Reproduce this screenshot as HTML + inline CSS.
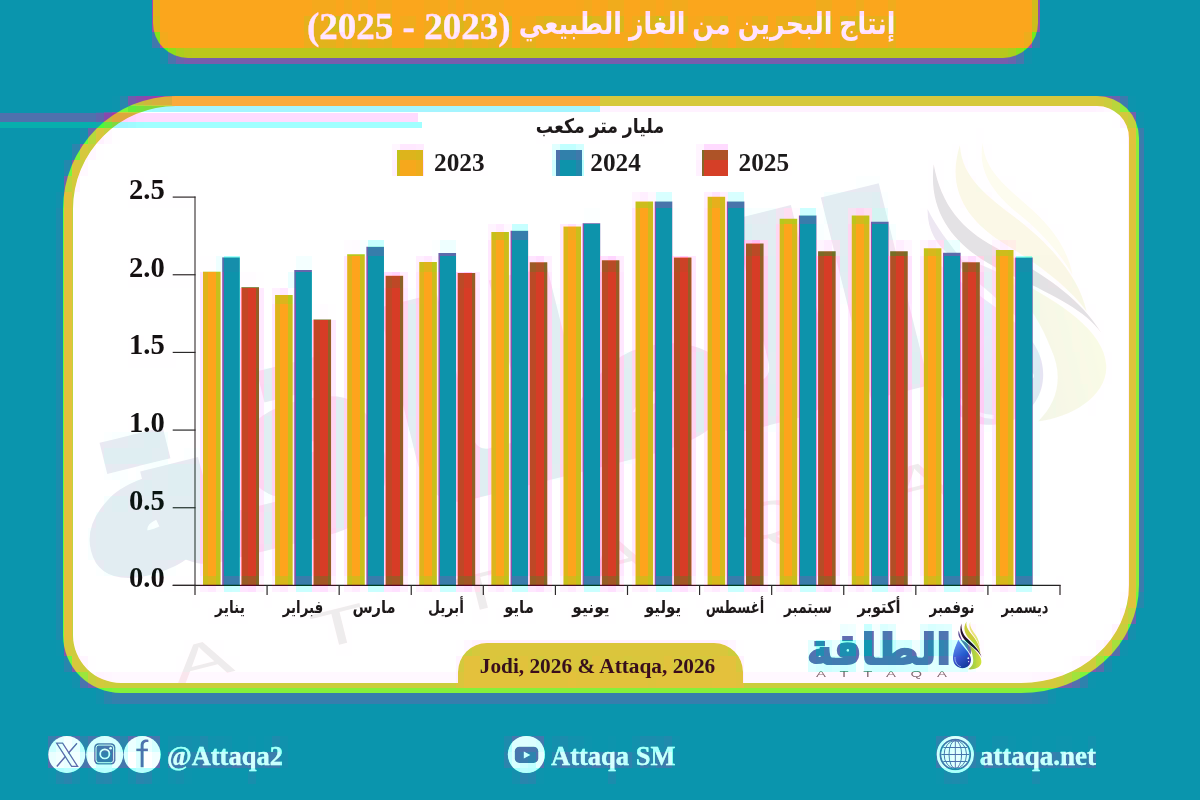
<!DOCTYPE html>
<html lang="ar">
<head>
<meta charset="utf-8">
<title>إنتاج البحرين من الغاز الطبيعي</title>
<style>
html,body{margin:0;padding:0}
body{width:1200px;height:800px;overflow:hidden;position:relative;background:#0a95ad;font-family:"Liberation Serif","DejaVu Sans",serif;}
#banner{position:absolute;left:153px;top:-40px;width:884.5px;height:98px;background:#fba61c;border-radius:0 0 35px 35px;}
#tar{position:absolute;right:305px;top:2px;height:44px;line-height:44px;direction:rtl;color:#fff;font-weight:bold;font-size:30px;font-family:"Liberation Sans","DejaVu Sans",sans-serif;white-space:nowrap;transform-origin:right center;transform:scaleX(0.842);}
#tnum{position:absolute;left:307px;top:5.4px;-webkit-text-stroke:0.3px #fff;height:44px;line-height:44px;direction:rtl;color:#fff;font-weight:bold;font-size:37px;font-family:"Liberation Serif",serif;white-space:nowrap;}
#panel{position:absolute;left:62.5px;top:95.5px;width:1056px;height:577px;border:10px solid #e1c23c;border-radius:113px 42px 118px 58px / 113px 42px 108px 58px;background:#fff;}
#wmclip{position:absolute;left:72.5px;top:105.5px;width:1056px;height:577px;border-radius:103px 32px 108px 48px / 103px 32px 98px 48px;overflow:hidden;}
#wm{position:absolute;left:-72.5px;top:-105.5px;width:1200px;height:800px;transform-origin:0 0;transform:translate(590px,400px) rotate(-14deg) scale(6.1) translate(-895px,-650px);opacity:0.15;}
#wmd{position:absolute;left:-72.5px;top:-105.5px;width:1200px;height:800px;transform-origin:0 0;transform:translate(585px,415px) rotate(-14deg) scale(6.0) translate(-895px,-650px);opacity:0.12;}
#wm .wlogo{position:absolute;left:807px;top:621px;width:146px;height:50px;direction:rtl;text-align:center;font:bold 39px/50px "Liberation Sans","DejaVu Sans",sans-serif;color:#2a90a8;white-space:nowrap;-webkit-text-stroke:2px #2a90a8;transform:scale(1.11,1.08);}
#wm .wsub{position:absolute;left:818px;top:671px;font:normal 8.5px/10px "Liberation Sans",sans-serif;color:#8a8288;letter-spacing:8.4px;white-space:nowrap;transform-origin:left center;transform:scaleX(1.75);}
.bp{position:absolute;mix-blend-mode:screen;pointer-events:none}
.bd{position:absolute;mix-blend-mode:difference;pointer-events:none}
.bm{position:absolute;mix-blend-mode:multiply;pointer-events:none}
#pill{position:absolute;left:457.5px;top:642.5px;width:285px;height:46px;background:#e1c23c;border-radius:29px 29px 0 0;}
#src{position:absolute;left:455px;top:642.5px;width:285px;height:46px;line-height:46px;text-align:center;font-weight:bold;font-size:21.3px;color:#1c1c1c;font-family:"Liberation Serif",serif;white-space:nowrap;}
svg{position:absolute;left:0;top:0}
#stage{position:absolute;left:0;top:0;width:1200px;height:800px;background:#0a95ad;overflow:hidden;}
@media (resolution: 1dppx){#stage{filter:url(#crf);}}
.yl{position:absolute;left:100px;width:64.8px;text-align:right;font:bold 28.6px/32px "Liberation Serif",serif;color:#111;}
.ml{position:absolute;top:593.2px;width:80px;text-align:center;direction:rtl;font:bold 17.5px/28px "Liberation Sans","DejaVu Sans",sans-serif;color:#1a1a1a;white-space:nowrap;}
.lg{position:absolute;top:146.7px;font:bold 25.3px/30px "Liberation Serif",serif;color:#1a1a1a;}
.sw{position:absolute;top:150px;width:25.5px;height:25.5px;}
#unit{position:absolute;left:500px;width:200px;top:110.5px;text-align:center;direction:rtl;font:bold 20px/30px "Liberation Sans","DejaVu Sans",sans-serif;color:#1a1a1a;white-space:nowrap;transform:scaleX(0.865);}
.ft{position:absolute;top:741.2px;font:bold 26.5px/30px "Liberation Serif",serif;color:#fff;white-space:nowrap;transform:scaleY(1.04);transform-origin:left bottom;-webkit-text-stroke:0.3px #fff;}
#logo{position:absolute;left:806px;top:625px;width:146px;height:50px;direction:rtl;text-align:center;font:bold 39px/50px "Liberation Sans","DejaVu Sans",sans-serif;color:#0e96b1;white-space:nowrap;-webkit-text-stroke:2px #0e96b1;transform:scale(1.11,1.08);}
#logosub{position:absolute;left:815.5px;top:668.5px;font:normal 8.5px/10px "Liberation Sans",sans-serif;color:#6f6f72;letter-spacing:8.4px;white-space:nowrap;transform-origin:left center;transform:scaleX(1.75);}
</style>
</head>
<body>
<svg width="0" height="0" style="position:absolute;left:0;top:0" aria-hidden="true">
<defs><g id="crmap" shape-rendering="crispEdges">
<path fill="#380000" d="M0 0h152v96h-152zM1040 0h160v96h-160zM152 48h8v48h-8zM1032 48h8v48h-8zM160 64h872v32h-872zM0 96h112v16h-112zM1136 96h64v16h-64zM0 112h96v16h-96zM1144 112h56v688h-56zM0 128h80v16h-80zM0 144h72v16h-72zM0 160h64v32h-64zM0 192h56v544h-56zM1136 608h8v192h-8zM1128 640h8v160h-8zM56 656h8v80h-8zM1112 656h16v144h-16zM64 672h8v64h-8zM1096 672h16v128h-16zM72 688h24v48h-24zM1056 688h40v48h-40zM96 704h960v32h-960zM0 736h48v64h-48zM160 736h8v16h-8zM232 736h16v16h-16zM256 736h8v16h-8zM288 736h216v64h-216zM592 736h16v16h-16zM616 736h16v16h-16zM680 736h256v64h-256zM976 736h16v16h-16zM1016 736h16v16h-16zM1040 736h16v16h-16zM1072 736h16v16h-16zM80 768h8v32h-8zM120 768h8v32h-8zM160 768h8v32h-8zM192 768h56v32h-56zM256 768h32v32h-32zM504 768h8v32h-8zM544 768h64v32h-64zM616 768h64v32h-64zM968 768h64v32h-64zM1040 768h56v32h-56zM48 784h32v16h-32zM88 784h32v16h-32zM128 784h32v16h-32zM168 784h24v16h-24zM248 784h8v16h-8zM512 784h32v16h-32zM608 784h8v16h-8zM936 784h32v16h-32zM1032 784h8v16h-8z"/>
<path fill="#390000" d="M112 96h8v16h-8zM1128 96h8v16h-8zM560 160h16v16h-16zM656 208h16v368h-16zM728 208h16v368h-16zM584 224h16v352h-16zM800 224h16v352h-16zM872 224h16v352h-16zM512 240h16v336h-16zM368 256h16v320h-16zM440 256h16v320h-16zM944 256h16v320h-16zM224 272h8v304h-8zM296 272h8v304h-8zM1016 272h16v304h-16zM864 640h8v16h-8zM248 736h8v16h-8zM544 736h8v16h-8zM608 736h8v16h-8zM1008 736h8v16h-8zM1032 736h8v16h-8zM1056 736h16v16h-16zM48 768h8v16h-8zM184 768h8v16h-8zM936 768h8v16h-8z"/>
<path fill="#3a0000" d="M232 272h8v304h-8zM304 272h8v304h-8zM56 640h8v16h-8zM1088 672h8v16h-8zM264 736h8v16h-8zM584 736h8v16h-8zM160 752h8v16h-8zM152 768h8v16h-8zM536 768h8v16h-8z"/>
<path fill="#3b0000" d="M1136 112h8v16h-8zM1120 640h8v16h-8zM224 736h8v16h-8zM280 736h8v16h-8zM88 768h8v16h-8z"/>
<path fill="#3c0000" d="M208 736h8v16h-8zM672 736h8v16h-8zM544 752h8v16h-8zM168 768h8v16h-8z"/>
<path fill="#3d0000" d="M1024 48h8v16h-8zM192 736h8v16h-8zM216 736h8v16h-8zM568 736h16v16h-16zM112 768h8v16h-8z"/>
<path fill="#3e0000" d="M56 192h8v16h-8zM72 672h8v16h-8zM96 688h8v16h-8zM1048 688h8v16h-8zM168 736h8v16h-8zM632 736h8v16h-8zM992 736h16v16h-16zM1088 736h8v16h-8z"/>
<path fill="#3f0000" d="M224 256h8v16h-8zM1016 256h8v16h-8zM1128 624h8v16h-8zM552 736h8v16h-8zM280 752h8v16h-8zM672 752h8v16h-8z"/>
<path fill="#400000" d="M160 48h8v16h-8zM232 256h8v16h-8zM1024 256h8v16h-8zM176 736h16v16h-16zM128 768h8v16h-8zM176 768h8v16h-8zM512 768h8v16h-8z"/>
<path fill="#410000" d="M656 736h8v16h-8z"/>
<path fill="#420000" d="M80 128h8v16h-8zM840 640h8v16h-8zM72 768h8v16h-8zM248 768h8v16h-8zM960 768h8v16h-8z"/>
<path fill="#430000" d="M848 640h8v16h-8zM560 736h8v16h-8zM608 768h8v16h-8zM1032 768h8v16h-8z"/>
<path fill="#440000" d="M56 208h8v432h-8zM1104 656h8v16h-8zM640 736h16v16h-16zM632 752h8v16h-8zM944 768h8v16h-8z"/>
<path fill="#450000" d="M816 640h8v16h-8zM200 736h8v16h-8zM504 736h8v16h-8zM952 768h8v16h-8z"/>
<path fill="#460000" d="M272 736h8v16h-8z"/>
<path fill="#470000" d="M56 768h8v16h-8z"/>
<path fill="#480000" d="M96 112h8v16h-8zM664 736h8v16h-8zM976 752h8v16h-8z"/>
<path fill="#490000" d="M968 736h8v16h-8zM144 768h8v16h-8z"/>
<path fill="#4a0000" d="M64 160h8v16h-8zM576 160h8v16h-8zM1040 688h8v16h-8zM96 768h8v16h-8zM528 768h8v16h-8z"/>
<path fill="#4c0000" d="M120 96h8v16h-8zM1136 592h8v16h-8zM104 768h8v16h-8z"/>
<path fill="#4d0000" d="M928 640h8v16h-8zM64 656h8v16h-8zM104 688h8v16h-8zM80 736h8v16h-8zM120 736h8v16h-8zM184 752h8v16h-8zM64 768h8v16h-8zM136 768h8v16h-8zM520 768h8v16h-8z"/>
<path fill="#4e0000" d="M192 752h8v16h-8zM552 752h8v16h-8zM648 752h8v16h-8z"/>
<path fill="#500000" d="M72 144h8v16h-8zM880 640h8v16h-8zM936 736h8v16h-8zM504 752h8v16h-8zM528 752h8v16h-8z"/>
<path fill="#510000" d="M888 640h8v16h-8zM936 640h8v16h-8zM1080 672h8v16h-8zM1032 688h8v16h-8z"/>
<path fill="#520000" d="M1056 752h8v16h-8zM1080 752h8v16h-8z"/>
<path fill="#530000" d="M560 144h16v16h-16zM624 752h8v16h-8zM968 752h8v16h-8z"/>
<path fill="#540000" d="M1032 32h8v16h-8zM104 752h8v16h-8zM256 752h8v16h-8zM1008 752h8v16h-8z"/>
<path fill="#550000" d="M112 688h8v16h-8zM1024 688h8v16h-8zM224 752h8v16h-8zM584 752h8v16h-8z"/>
<path fill="#560000" d="M96 752h8v16h-8zM208 752h8v16h-8zM600 752h8v16h-8z"/>
<path fill="#570000" d="M512 224h16v16h-16zM368 240h16v16h-16zM944 640h8v16h-8zM120 688h904v16h-904zM216 752h8v16h-8zM568 752h16v16h-16zM1024 752h8v16h-8zM1048 752h8v16h-8z"/>
<path fill="#580000" d="M864 624h8v16h-8zM888 656h8v16h-8zM240 752h8v16h-8z"/>
<path fill="#590000" d="M1136 128h8v16h-8zM224 576h8v16h-8zM296 576h16v16h-16zM368 576h16v16h-16zM440 576h16v16h-16zM512 576h16v16h-16zM584 576h16v16h-16zM656 576h16v16h-16zM728 576h16v16h-16zM800 576h16v16h-16zM872 576h16v16h-16zM944 576h16v16h-16zM1016 576h16v16h-16zM840 656h8v16h-8zM272 752h8v16h-8zM520 752h8v16h-8zM616 752h8v16h-8zM640 752h8v16h-8zM656 752h8v16h-8zM1000 752h8v16h-8zM1040 752h8v16h-8z"/>
<path fill="#5a0000" d="M800 208h16v16h-16zM232 576h8v16h-8zM960 640h8v16h-8zM824 656h8v16h-8zM880 656h8v16h-8zM896 656h8v16h-8zM48 736h8v16h-8zM264 752h8v16h-8zM992 752h8v16h-8z"/>
<path fill="#5b0000" d="M920 656h8v16h-8zM1088 752h8v16h-8z"/>
<path fill="#5c0000" d="M1120 96h8v16h-8zM552 160h8v16h-8zM1136 576h8v16h-8zM920 640h8v16h-8zM848 656h8v16h-8zM904 656h16v16h-16zM936 752h8v16h-8zM1072 752h8v16h-8z"/>
<path fill="#5d0000" d="M1136 144h8v432h-8zM872 656h8v16h-8z"/>
<path fill="#5e0000" d="M576 144h8v16h-8zM904 640h8v16h-8zM864 656h8v16h-8zM96 736h8v16h-8zM168 752h8v16h-8zM200 752h8v16h-8zM664 752h8v16h-8z"/>
<path fill="#5f0000" d="M152 32h8v16h-8zM816 656h8v16h-8zM832 656h8v16h-8zM536 736h8v16h-8zM960 736h8v16h-8zM560 752h8v16h-8z"/>
<path fill="#600000" d="M824 640h8v16h-8zM896 640h8v16h-8zM952 640h8v16h-8zM152 736h8v16h-8zM944 736h8v16h-8zM176 752h8v16h-8zM1064 752h8v16h-8z"/>
<path fill="#610000" d="M88 736h8v16h-8zM112 736h8v16h-8zM80 752h8v16h-8zM120 752h8v16h-8zM248 752h8v16h-8zM1016 752h8v16h-8z"/>
<path fill="#620000" d="M1016 48h8v16h-8zM512 752h8v16h-8zM608 752h8v16h-8zM944 752h8v16h-8zM960 752h8v16h-8zM1032 752h8v16h-8z"/>
<path fill="#630000" d="M128 96h8v16h-8zM656 192h16v16h-16zM728 192h16v16h-16zM928 624h8v16h-8zM960 656h8v16h-8zM104 736h8v16h-8zM592 752h8v16h-8zM984 752h8v16h-8z"/>
<path fill="#640000" d="M512 736h8v16h-8zM528 736h8v16h-8zM232 752h8v16h-8z"/>
<path fill="#650000" d="M880 624h8v16h-8zM808 656h8v16h-8zM136 736h8v16h-8z"/>
<path fill="#660000" d="M168 48h8v16h-8zM936 624h8v16h-8zM936 656h8v16h-8zM80 672h8v16h-8zM136 752h8v16h-8z"/>
<path fill="#670000" d="M520 736h8v16h-8zM952 736h8v16h-8z"/>
<path fill="#690000" d="M552 144h8v16h-8zM944 624h8v16h-8zM928 656h8v16h-8zM944 656h16v16h-16z"/>
<path fill="#6a0000" d="M888 624h8v16h-8zM808 640h8v16h-8zM952 752h8v16h-8z"/>
<path fill="#6b0000" d="M920 624h8v16h-8zM1072 672h8v16h-8zM56 736h8v16h-8zM536 752h8v16h-8z"/>
<path fill="#6d0000" d="M72 736h8v16h-8zM112 752h8v16h-8z"/>
<path fill="#6e0000" d="M872 208h8v16h-8zM1112 640h8v16h-8zM144 736h8v16h-8zM48 752h8v16h-8zM64 752h8v16h-8z"/>
<path fill="#6f0000" d="M832 640h8v16h-8zM872 640h8v16h-8zM1096 656h8v16h-8z"/>
<path fill="#700000" d="M104 112h8v16h-8zM880 208h8v16h-8zM288 272h8v16h-8zM856 640h8v16h-8zM128 736h8v16h-8z"/>
<path fill="#710000" d="M952 240h8v16h-8zM88 752h8v16h-8z"/>
<path fill="#720000" d="M440 240h16v16h-16zM944 240h8v16h-8zM216 256h8v16h-8z"/>
<path fill="#730000" d="M840 624h8v16h-8zM912 640h8v16h-8z"/>
<path fill="#740000" d="M56 752h8v16h-8zM72 752h8v16h-8z"/>
<path fill="#750000" d="M136 96h8v16h-8zM744 224h8v16h-8zM1032 352h8v32h-8zM848 624h8v16h-8zM152 752h8v16h-8z"/>
<path fill="#760000" d="M1032 384h8v16h-8zM64 736h8v16h-8z"/>
<path fill="#770000" d="M872 192h8v16h-8zM296 256h16v16h-16zM768 256h8v96h-8zM840 256h8v16h-8zM408 304h8v112h-8zM552 320h8v144h-8zM696 352h8v80h-8zM912 352h8v32h-8zM624 368h8v80h-8zM264 384h8v16h-8zM768 384h8v32h-8zM336 400h8v128h-8zM264 416h8v64h-8zM144 432h16v16h-16zM104 448h48v16h-48zM480 448h8v48h-8zM168 464h24v32h-24zM144 480h8v16h-8zM112 496h16v16h-16zM264 512h8v32h-8zM872 624h8v16h-8zM968 656h8v16h-8z"/>
<path fill="#780000" d="M88 128h8v16h-8zM840 192h32v16h-32zM744 208h8v16h-8zM832 208h16v32h-16zM752 224h24v16h-24zM888 224h8v16h-8zM768 240h8v16h-8zM840 240h8v16h-8zM1032 304h8v16h-8zM1032 336h8v16h-8zM624 352h8v16h-8zM768 352h8v32h-8zM264 368h8v16h-8zM408 416h8v16h-8zM136 432h8v16h-8zM152 448h8v16h-8zM160 464h8v32h-8zM552 464h8v16h-8zM136 480h8v16h-8zM144 496h8v16h-8zM168 496h24v64h-24zM96 512h48v48h-48zM160 512h8v48h-8zM144 528h16v32h-16zM112 560h16v16h-16zM144 560h8v16h-8z"/>
<path fill="#790000" d="M824 192h16v16h-16zM768 208h8v16h-8zM824 208h8v16h-8zM840 272h8v16h-8zM984 272h8v16h-8zM1032 288h8v16h-8zM552 304h8v16h-8zM984 304h8v32h-8zM1032 320h8v16h-8zM912 336h8v16h-8zM1032 400h8v176h-8zM128 432h8v16h-8zM160 432h8v32h-8zM624 448h8v16h-8zM152 464h8v32h-8zM192 464h8v96h-8zM264 480h8v16h-8zM104 496h8v16h-8zM160 496h8v16h-8zM144 512h8v16h-8zM104 560h8v16h-8zM128 560h16v16h-16zM968 640h8v16h-8zM856 656h8v16h-8z"/>
<path fill="#7a0000" d="M752 208h16v16h-16zM1032 272h8v16h-8zM984 336h8v64h-8zM120 432h8v16h-8zM144 464h8v16h-8zM128 480h8v16h-8zM152 496h8v32h-8zM88 528h8v16h-8z"/>
<path fill="#7b0000" d="M1008 48h8v16h-8zM816 224h8v16h-8zM360 240h8v16h-8zM1032 256h8v16h-8zM984 400h8v16h-8zM768 416h8v16h-8zM112 432h8v16h-8zM408 432h8v16h-8zM112 464h8v16h-8zM120 480h8v16h-8zM128 496h16v16h-16zM264 496h8v16h-8zM88 544h8v16h-8zM152 560h16v16h-16z"/>
<path fill="#7c0000" d="M1112 96h8v16h-8zM872 176h8v16h-8zM584 208h16v16h-16zM104 432h8v16h-8zM104 464h8v16h-8zM264 544h8v16h-8zM96 560h8v16h-8zM168 560h8v16h-8zM1032 576h8v16h-8z"/>
<path fill="#7d0000" d="M176 48h8v16h-8zM856 176h16v16h-16zM880 192h8v16h-8zM672 208h8v48h-8zM816 208h8v16h-8zM824 224h8v16h-8zM432 240h8v16h-8zM408 288h8v16h-8zM552 288h8v16h-8zM840 288h8v16h-8zM984 288h8v16h-8zM912 320h8v16h-8zM912 384h8v16h-8zM264 400h8v16h-8zM984 416h8v16h-8zM184 448h16v16h-16zM120 464h8v16h-8zM136 464h8v16h-8z"/>
<path fill="#7e0000" d="M848 176h8v16h-8zM672 192h8v16h-8zM744 192h8v16h-8zM816 192h8v16h-8zM600 224h8v32h-8zM528 240h8v16h-8zM288 256h8v16h-8zM984 256h8v16h-8zM696 336h8v16h-8zM1040 368h8v16h-8zM336 384h8v16h-8zM1048 400h8v16h-8zM96 432h8v32h-8zM696 432h8v16h-8zM168 448h16v16h-16zM128 464h8v16h-8zM112 480h8v16h-8zM96 496h8v16h-8zM88 512h8v16h-8zM336 528h8v16h-8zM176 560h8v16h-8zM192 560h8v16h-8zM1128 608h8v16h-8z"/>
<path fill="#7f0000" d="M144 112h416v16h-416zM576 112h56v16h-56zM640 112h8v16h-8zM656 112h456v16h-456zM120 128h416v16h-416zM664 128h312v16h-312zM984 128h136v16h-136zM104 144h288v32h-288zM424 144h128v16h-128zM584 144h112v16h-112zM728 144h224v16h-224zM968 144h8v16h-8zM992 144h136v16h-136zM88 160h16v272h-16zM424 160h8v96h-8zM488 160h64v64h-64zM640 160h56v32h-56zM728 160h8v32h-8zM792 160h136v16h-136zM944 160h8v32h-8zM1000 160h128v16h-128zM80 176h8v480h-8zM104 176h24v256h-24zM144 176h8v16h-8zM168 176h256v16h-256zM432 176h56v64h-56zM552 176h88v16h-88zM696 176h32v16h-32zM736 176h112v16h-112zM880 176h48v16h-48zM1016 176h112v16h-112zM200 192h224v48h-224zM552 192h80v16h-80zM680 192h24v64h-24zM752 192h64v16h-64zM888 192h40v16h-40zM1032 192h96v16h-96zM128 208h64v48h-64zM552 208h32v16h-32zM600 208h32v16h-32zM888 208h32v16h-32zM1048 208h80v16h-80zM528 224h32v16h-32zM608 224h24v32h-24zM896 224h32v16h-32zM1064 224h64v16h-64zM200 240h144v16h-144zM384 240h40v16h-40zM456 240h32v32h-32zM536 240h24v16h-24zM912 240h8v80h-8zM960 240h8v16h-8zM1072 240h56v32h-56zM144 256h8v16h-8zM168 256h24v16h-24zM240 256h48v16h-48zM312 256h32v48h-32zM384 256h32v16h-32zM552 256h8v32h-8zM624 256h8v96h-8zM696 256h8v80h-8zM264 272h24v16h-24zM408 272h8v16h-8zM480 272h8v176h-8zM1080 272h48v16h-48zM128 288h64v48h-64zM264 288h8v80h-8zM1040 288h8v80h-8zM1088 288h40v16h-40zM336 304h8v80h-8zM840 304h8v288h-8zM1048 304h16v96h-16zM1096 304h32v16h-32zM1064 320h8v336h-8zM1104 320h24v32h-24zM144 336h8v16h-8zM168 336h24v16h-24zM176 352h16v96h-16zM1072 352h8v304h-8zM1112 352h16v240h-16zM128 368h48v48h-48zM1040 384h8v224h-8zM1080 384h8v272h-8zM1104 384h8v240h-8zM912 400h8v64h-8zM1056 400h8v176h-8zM1096 400h8v240h-8zM136 416h40v16h-40zM1048 416h8v256h-8zM1088 416h8v224h-8zM88 432h8v80h-8zM168 432h8v16h-8zM768 432h8v64h-8zM984 432h8v160h-8zM408 448h8v144h-8zM696 448h8v144h-8zM96 464h8v32h-8zM624 464h8v80h-8zM104 480h8v16h-8zM552 480h8v112h-8zM480 496h8v64h-8zM912 496h8v96h-8zM768 512h8v16h-8zM336 544h8v48h-8zM768 544h8v48h-8zM88 560h8v96h-8zM184 560h8v16h-8zM264 560h8v32h-8zM96 576h56v96h-56zM624 576h8v16h-8zM152 592h40v48h-40zM200 592h24v16h-24zM232 592h32v16h-32zM272 592h24v16h-24zM304 592h32v16h-32zM360 592h16v16h-16zM392 592h16v16h-16zM416 592h16v16h-16zM440 592h16v16h-16zM464 592h8v48h-8zM488 592h32v16h-32zM528 592h24v16h-24zM560 592h64v16h-64zM632 592h24v16h-24zM672 592h24v16h-24zM704 592h16v16h-16zM736 592h24v16h-24zM776 592h64v16h-64zM848 592h40v16h-40zM904 592h8v48h-8zM920 592h64v16h-64zM992 592h48v16h-48zM1112 592h8v32h-8zM192 608h16v32h-16zM248 608h32v64h-32zM400 608h24v64h-24zM488 608h8v32h-8zM536 608h32v32h-32zM616 608h24v32h-24zM688 608h16v32h-16zM768 608h8v64h-8zM832 608h24v16h-24zM912 608h16v16h-16zM976 608h24v16h-24zM1056 608h8v64h-8zM208 624h40v16h-40zM280 624h48v48h-48zM352 624h48v48h-48zM424 624h40v16h-40zM472 624h16v16h-16zM496 624h40v16h-40zM568 624h48v16h-48zM640 624h48v16h-48zM704 624h64v16h-64zM776 624h64v16h-64zM856 624h8v16h-8zM896 624h8v16h-8zM912 624h8v16h-8zM984 624h64v48h-64zM152 640h32v16h-32zM224 640h24v16h-24zM328 640h8v32h-8zM424 640h32v32h-32zM744 640h24v32h-24zM776 640h32v32h-32zM152 656h24v16h-24zM240 656h8v16h-8zM336 656h16v16h-16zM1064 672h8v16h-8zM128 752h8v16h-8zM144 752h8v16h-8z"/>
<path fill="#800000" d="M144 96h8v16h-8zM560 112h16v32h-16zM632 112h8v32h-8zM648 112h8v32h-8zM112 128h8v16h-8zM536 128h24v16h-24zM576 128h56v16h-56zM640 128h8v16h-8zM656 128h8v16h-8zM976 128h8v64h-8zM1120 128h8v16h-8zM96 144h8v16h-8zM952 144h16v16h-16zM984 144h8v16h-8zM432 160h56v16h-56zM584 160h56v16h-56zM736 160h56v16h-56zM928 160h16v64h-16zM968 160h8v16h-8zM992 160h8v16h-8zM128 176h16v32h-16zM152 176h16v32h-16zM984 176h8v16h-8zM1000 176h16v16h-16zM144 192h8v16h-8zM168 192h32v16h-32zM944 192h16v48h-16zM1000 192h8v16h-8zM1016 192h16v16h-16zM192 208h8v240h-8zM920 208h8v16h-8zM960 208h8v32h-8zM1040 208h8v16h-8zM968 224h16v32h-16zM1048 224h16v16h-16zM984 240h8v16h-8zM1064 240h8v16h-8zM128 256h16v32h-16zM152 256h16v32h-16zM200 256h8v16h-8zM144 272h8v16h-8zM168 272h24v16h-24zM1040 272h8v16h-8zM1072 272h8v16h-8zM1048 288h24v16h-24zM1080 288h8v96h-8zM328 304h8v16h-8zM1064 304h16v16h-16zM1088 304h8v112h-8zM1072 320h8v32h-8zM1096 320h8v80h-8zM128 336h16v32h-16zM152 336h16v32h-16zM144 352h8v16h-8zM168 352h8v16h-8zM1104 352h8v32h-8zM128 416h8v16h-8zM912 464h8v32h-8zM768 496h8v16h-8zM768 528h8v16h-8zM624 544h8v32h-8zM480 560h8v64h-8zM152 576h48v16h-48zM1056 576h8v32h-8zM192 592h8v16h-8zM224 592h8v32h-8zM264 592h8v16h-8zM296 592h8v32h-8zM336 592h24v32h-24zM376 592h16v32h-16zM408 592h8v16h-8zM432 592h8v32h-8zM456 592h8v32h-8zM472 592h8v32h-8zM520 592h8v32h-8zM552 592h8v16h-8zM624 592h8v16h-8zM656 592h16v32h-16zM696 592h8v16h-8zM720 592h16v32h-16zM760 592h16v16h-16zM840 592h8v16h-8zM888 592h16v32h-16zM912 592h8v16h-8zM984 592h8v16h-8zM208 608h16v16h-16zM232 608h16v16h-16zM280 608h16v16h-16zM304 608h32v16h-32zM360 608h16v16h-16zM392 608h8v16h-8zM424 608h8v16h-8zM440 608h16v16h-16zM496 608h24v16h-24zM528 608h8v16h-8zM568 608h48v16h-48zM640 608h16v16h-16zM672 608h16v16h-16zM704 608h16v16h-16zM736 608h32v16h-32zM776 608h56v16h-56zM856 608h32v16h-32zM928 608h48v16h-48zM1000 608h48v16h-48zM328 624h24v16h-24zM952 624h8v16h-8zM976 624h8v16h-8zM1104 624h8v16h-8zM184 640h40v32h-40zM336 640h16v16h-16zM456 640h8v16h-8zM736 640h8v16h-8zM1088 640h8v16h-8zM88 656h8v16h-8zM176 656h8v16h-8zM224 656h16v16h-16zM1064 656h8v16h-8z"/>
<path fill="#810000" d="M136 112h8v16h-8zM1112 112h8v16h-8zM952 160h8v32h-8zM984 160h8v16h-8zM64 176h8v16h-8zM992 176h8v32h-8zM1008 192h8v32h-8zM968 208h8v16h-8zM1016 208h24v16h-24zM928 224h16v16h-16zM984 224h8v16h-8zM1032 224h16v16h-16zM1048 240h16v16h-16zM208 256h8v16h-8zM1064 256h8v16h-8zM256 272h8v16h-8zM1048 272h8v16h-8zM1072 288h8v16h-8zM312 304h8v16h-8zM976 656h8v16h-8z"/>
<path fill="#820000" d="M960 160h8v48h-8zM968 176h8v32h-8zM976 192h16v32h-16zM992 208h16v32h-16zM1008 224h24v16h-24zM1016 240h32v16h-32zM1040 256h24v16h-24zM1056 272h16v16h-16zM288 288h8v16h-8zM320 304h8v16h-8zM1120 592h8v16h-8z"/>
<path fill="#830000" d="M72 208h8v432h-8zM776 208h8v16h-8zM344 240h8v16h-8zM240 272h16v16h-16z"/>
<path fill="#840000" d="M1128 112h8v16h-8zM832 240h8v16h-8zM976 640h8v16h-8zM1072 656h8v16h-8z"/>
<path fill="#850000" d="M184 48h8v16h-8zM1000 48h8v16h-8zM72 192h8v16h-8zM792 208h8v16h-8zM352 240h8v16h-8z"/>
<path fill="#860000" d="M192 48h808v16h-808zM128 112h8v16h-8zM104 128h8v16h-8zM80 160h8v16h-8zM432 256h8v16h-8zM1120 624h8v16h-8zM88 672h8v16h-8z"/>
<path fill="#870000" d="M888 240h8v16h-8zM960 624h8v16h-8zM1096 640h8v16h-8z"/>
<path fill="#880000" d="M152 96h8v16h-8zM216 576h8v16h-8zM112 672h344v16h-344zM744 672h288v16h-288z"/>
<path fill="#890000" d="M1104 96h8v16h-8zM88 144h8v16h-8zM648 192h8v16h-8zM848 208h8v16h-8zM504 224h8v16h-8zM288 576h8v16h-8zM360 576h8v16h-8zM968 624h8v16h-8zM464 640h8v16h-8z"/>
<path fill="#8a0000" d="M904 240h8v16h-8zM992 240h8v16h-8zM432 576h8v16h-8zM72 640h8v16h-8zM728 640h8v16h-8zM1032 672h8v16h-8z"/>
<path fill="#8b0000" d="M392 144h8v16h-8zM504 576h8v16h-8zM576 576h8v16h-8zM80 656h8v16h-8zM104 672h8v16h-8zM1056 672h8v16h-8z"/>
<path fill="#8c0000" d="M696 144h8v16h-8zM632 192h8v16h-8zM784 208h8v16h-8zM816 240h8v16h-8zM648 576h8v16h-8zM1080 656h8v16h-8zM1040 672h8v16h-8z"/>
<path fill="#8d0000" d="M160 96h8v16h-8zM112 112h16v16h-16zM864 208h8v16h-8zM920 240h8v16h-8zM216 512h8v48h-8zM720 576h8v16h-8zM1088 656h8v16h-8z"/>
<path fill="#8e0000" d="M72 176h8v16h-8zM288 368h8v16h-8zM288 416h8v128h-8zM216 560h8v16h-8zM792 576h8v16h-8zM864 576h8v16h-8zM1112 624h8v16h-8zM456 656h8v16h-8zM504 656h8v16h-8z"/>
<path fill="#8f0000" d="M168 96h8v16h-8zM1096 96h8v16h-8zM1120 112h8v16h-8zM488 224h8v16h-8zM1008 240h8v16h-8zM216 272h8v240h-8zM288 352h8v16h-8zM288 384h8v32h-8zM256 576h8v16h-8zM848 576h8v16h-8zM920 576h8v16h-8zM936 576h8v16h-8zM992 576h8v16h-8zM1120 608h8v16h-8zM64 640h8v16h-8zM536 656h8v16h-8zM96 672h8v16h-8zM1048 672h8v16h-8z"/>
<path fill="#900000" d="M488 16h8v16h-8zM176 96h920v16h-920zM576 224h8v16h-8zM936 240h8v16h-8zM288 304h8v48h-8zM360 416h8v96h-8zM288 544h8v32h-8zM328 576h8v16h-8zM400 576h8v16h-8zM560 576h8v16h-8zM632 576h8v16h-8zM704 576h8v16h-8zM776 576h8v16h-8zM1008 576h8v16h-8zM72 656h8v16h-8zM584 656h8v16h-8zM680 656h8v16h-8zM704 656h8v16h-8z"/>
<path fill="#910000" d="M80 144h8v16h-8zM360 256h8v160h-8zM432 304h8v192h-8zM360 512h8v64h-8zM344 576h8v16h-8zM416 576h8v16h-8zM472 576h8v16h-8zM488 576h8v16h-8zM544 576h8v16h-8zM472 640h8v16h-8zM480 656h8v16h-8zM552 656h8v16h-8zM624 656h8v16h-8zM696 656h8v16h-8zM736 656h8v16h-8z"/>
<path fill="#920000" d="M1032 16h8v16h-8zM96 128h8v16h-8zM392 160h8v16h-8zM504 272h8v80h-8zM272 288h8v16h-8zM432 288h8v16h-8zM504 448h8v32h-8zM200 576h8v16h-8zM272 576h8v16h-8zM616 576h8v16h-8zM688 576h8v16h-8zM760 576h8v16h-8zM720 640h8v16h-8zM496 656h8v16h-8zM544 656h8v16h-8zM560 656h8v16h-8zM616 656h8v16h-8zM640 656h16v16h-16zM688 656h8v16h-8z"/>
<path fill="#930000" d="M696 160h8v16h-8zM544 256h8v16h-8zM432 272h8v16h-8zM504 352h8v16h-8zM504 432h8v16h-8zM504 480h8v16h-8zM432 496h8v80h-8zM832 576h8v16h-8zM904 576h8v16h-8zM1104 640h8v16h-8zM512 656h8v16h-8zM576 656h8v16h-8zM608 656h8v16h-8zM632 656h8v16h-8zM672 656h8v16h-8z"/>
<path fill="#940000" d="M584 16h8v16h-8zM720 192h8v16h-8zM504 240h8v32h-8zM1000 240h8v16h-8zM416 256h8v16h-8zM504 368h8v64h-8zM576 400h8v80h-8zM504 496h8v80h-8zM976 576h8v16h-8zM480 640h8v16h-8zM488 656h8v16h-8zM600 656h8v16h-8zM656 656h8v16h-8z"/>
<path fill="#950000" d="M656 16h8v16h-8zM72 160h8v16h-8zM640 192h8v16h-8zM704 192h8v16h-8zM576 240h8v160h-8zM760 240h8v16h-8zM976 256h8v16h-8zM648 352h8v32h-8zM648 400h8v48h-8zM576 480h8v96h-8zM488 640h232v16h-232zM528 656h8v16h-8zM568 656h8v16h-8zM456 672h8v16h-8z"/>
<path fill="#960000" d="M1032 0h8v16h-8zM328 16h8v16h-8zM432 16h8v16h-8zM816 16h8v16h-8zM648 208h8v144h-8zM824 240h8v16h-8zM896 240h8v16h-8zM648 384h8v16h-8zM720 384h8v48h-8zM648 448h8v128h-8zM712 656h8v16h-8z"/>
<path fill="#970000" d="M336 16h8v16h-8zM824 16h8v16h-8zM888 16h8v16h-8zM1128 144h8v448h-8zM400 272h8v16h-8zM720 368h8v16h-8zM256 432h8v48h-8zM256 512h8v32h-8zM648 672h8v16h-8z"/>
<path fill="#980000" d="M856 16h8v16h-8zM1128 128h8v16h-8zM720 208h8v160h-8zM792 240h8v176h-8zM616 256h8v16h-8zM848 256h8v48h-8zM992 272h8v16h-8zM992 304h8v64h-8zM256 368h8v16h-8zM920 368h8v16h-8zM328 400h8v128h-8zM256 416h8v16h-8zM720 432h8v144h-8zM504 672h8v16h-8zM520 672h8v16h-8zM552 672h8v16h-8zM640 672h8v16h-8zM656 672h8v16h-8zM696 672h8v16h-8zM736 672h8v16h-8z"/>
<path fill="#990000" d="M64 192h8v16h-8zM856 208h8v16h-8zM776 224h8v192h-8zM792 224h8v16h-8zM848 224h8v32h-8zM864 224h8v176h-8zM992 288h8v16h-8zM400 304h8v96h-8zM920 352h8v16h-8zM992 368h8v48h-8zM792 416h8v160h-8zM1128 592h8v16h-8zM520 656h8v16h-8zM592 656h8v32h-8zM664 656h8v32h-8zM480 672h24v16h-24zM512 672h8v16h-8zM528 672h24v16h-24zM560 672h8v16h-8zM576 672h16v16h-16zM600 672h40v16h-40zM672 672h24v16h-24zM704 672h8v16h-8z"/>
<path fill="#9a0000" d="M504 16h8v16h-8zM416 144h8v16h-8zM64 208h8v432h-8zM560 224h8v16h-8zM928 240h8v16h-8zM936 272h8v112h-8zM848 304h8v16h-8zM632 352h8v48h-8zM704 352h8v80h-8zM256 384h8v16h-8zM400 400h8v16h-8zM864 400h8v176h-8zM632 416h8v32h-8zM992 416h8v16h-8zM472 448h8v48h-8zM256 480h8v32h-8zM256 544h8v16h-8zM464 656h16v32h-16zM720 656h16v32h-16zM568 672h8v16h-8zM712 672h8v16h-8z"/>
<path fill="#9b0000" d="M344 16h8v16h-8zM448 16h8v16h-8zM472 16h8v16h-8zM792 16h8v16h-8zM496 224h8v16h-8zM936 256h8v16h-8zM960 256h8v16h-8zM992 256h8v16h-8zM544 288h8v192h-8zM560 336h8v128h-8zM920 384h8v16h-8zM936 384h8v16h-8zM632 400h8v16h-8zM776 416h8v16h-8zM992 432h8v144h-8zM960 576h8v16h-8z"/>
<path fill="#9c0000" d="M384 16h8v16h-8zM440 16h8v16h-8zM608 16h16v16h-16zM672 16h8v16h-8zM920 256h8v96h-8zM1008 288h8v128h-8zM416 304h8v144h-8zM560 320h8v16h-8zM848 320h8v256h-8zM616 368h8v80h-8zM328 384h8v16h-8zM256 400h8v16h-8zM920 400h8v176h-8zM936 400h8v176h-8zM488 448h8v48h-8zM632 448h8v16h-8zM560 464h8v16h-8zM328 528h8v16h-8zM888 576h8v16h-8z"/>
<path fill="#9d0000" d="M456 16h8v16h-8zM704 208h8v144h-8zM472 272h8v16h-8zM544 272h8v16h-8zM1008 272h8v16h-8zM256 288h8v80h-8zM400 288h8v16h-8zM328 320h8v64h-8zM616 352h8v16h-8zM688 352h8v80h-8zM344 400h8v128h-8zM1008 416h8v160h-8zM704 432h8v144h-8zM776 432h8v144h-8zM416 448h8v16h-8zM616 448h8v16h-8zM328 544h8v32h-8zM256 560h8v16h-8zM208 576h8v16h-8zM280 576h8v16h-8zM352 576h8v16h-8zM424 576h8v16h-8zM496 576h8v16h-8zM568 576h8v16h-8zM640 576h8v16h-8zM712 576h8v16h-8zM744 576h8v16h-8zM784 576h8v16h-8zM816 576h8v16h-8zM856 576h8v16h-8zM928 576h8v16h-8zM1000 576h8v16h-8z"/>
<path fill="#9e0000" d="M592 16h8v16h-8zM840 16h8v16h-8zM400 144h16v16h-16zM632 208h8v144h-8zM688 256h8v16h-8zM760 256h8v96h-8zM1008 256h8v16h-8zM488 272h8v16h-8zM280 288h8v16h-8zM416 288h8v16h-8zM272 368h8v32h-8zM760 384h8v32h-8zM272 416h8v80h-8zM400 416h8v160h-8zM472 432h8v16h-8zM632 464h8v112h-8zM200 480h8v80h-8zM472 496h8v16h-8zM272 512h8v32h-8zM672 576h8v16h-8z"/>
<path fill="#9f0000" d="M544 16h8v16h-8zM680 16h8v16h-8zM488 240h8v32h-8zM560 240h8v80h-8zM472 288h8v144h-8zM488 288h8v160h-8zM904 320h8v64h-8zM760 416h8v16h-8zM688 432h8v16h-8zM200 464h8v16h-8zM416 464h8v16h-8zM560 480h8v96h-8zM272 496h8v16h-8zM488 496h8v80h-8zM472 512h8v64h-8zM600 576h8v16h-8z"/>
<path fill="#a00000" d="M344 256h8v144h-8zM832 256h8v16h-8zM416 272h8v16h-8zM688 336h8v16h-8zM760 368h8v16h-8zM272 400h8v16h-8zM416 480h8v96h-8zM544 480h8v96h-8zM344 528h8v48h-8zM272 544h8v16h-8zM528 576h8v16h-8z"/>
<path fill="#a10000" d="M152 16h8v16h-8zM368 16h16v16h-16zM640 16h16v16h-16zM664 16h8v16h-8zM720 16h8v16h-8zM464 32h8v16h-8zM424 256h8v16h-8zM200 272h8v192h-8zM616 272h8v80h-8zM688 272h8v64h-8zM272 304h8v64h-8zM904 304h8v16h-8zM976 304h8v64h-8zM688 448h8v128h-8zM616 464h8v112h-8zM200 560h8v16h-8zM272 560h8v16h-8zM456 576h8v16h-8z"/>
<path fill="#a20000" d="M352 16h8v16h-8zM320 32h8v16h-8zM360 32h8v16h-8zM976 272h8v16h-8zM760 352h8v16h-8zM976 368h8v48h-8zM904 384h8v16h-8zM760 432h8v144h-8zM240 576h8v16h-8zM312 576h8v16h-8zM384 576h8v16h-8z"/>
<path fill="#a30000" d="M552 16h8v16h-8zM504 32h8v16h-8zM696 32h16v16h-16zM528 256h8v16h-8zM832 272h8v304h-8zM976 288h8v16h-8zM976 416h8v16h-8z"/>
<path fill="#a40000" d="M304 16h8v16h-8zM360 16h8v16h-8zM536 16h8v16h-8zM560 16h8v16h-8zM600 16h8v16h-8zM312 32h8v16h-8zM632 32h8v16h-8zM904 256h8v48h-8zM904 400h8v176h-8z"/>
<path fill="#a50000" d="M312 16h8v16h-8zM568 16h8v16h-8zM760 16h8v16h-8zM328 32h8v16h-8zM344 32h8v16h-8zM424 32h16v16h-16zM448 32h8v16h-8zM488 32h8v16h-8zM528 32h8v16h-8zM976 432h8v144h-8z"/>
<path fill="#a60000" d="M152 0h8v16h-8zM576 16h8v16h-8zM752 16h8v32h-8zM848 16h8v16h-8zM384 32h8v16h-8zM776 32h8v16h-8zM840 32h8v16h-8zM712 192h8v16h-8z"/>
<path fill="#a70000" d="M808 16h8v16h-8zM864 16h24v16h-24zM520 32h8v16h-8zM744 32h8v16h-8zM848 32h8v16h-8zM744 240h8v16h-8z"/>
<path fill="#a80000" d="M464 16h8v16h-8zM776 16h16v16h-16zM800 16h8v16h-8zM472 32h8v16h-8zM736 32h8v16h-8zM888 32h8v16h-8z"/>
<path fill="#a90000" d="M704 16h8v16h-8zM376 32h8v16h-8zM768 32h8v16h-8zM600 256h8v16h-8z"/>
<path fill="#aa0000" d="M368 32h8v16h-8zM480 32h8v16h-8zM496 32h8v16h-8zM1024 32h8v16h-8zM416 160h8v16h-8zM248 576h8v16h-8zM320 576h8v16h-8zM392 576h8v16h-8zM464 576h8v16h-8zM536 576h8v16h-8zM608 576h8v16h-8zM680 576h8v16h-8zM752 576h8v16h-8zM824 576h8v16h-8zM896 576h8v16h-8zM968 576h8v16h-8z"/>
<path fill="#ab0000" d="M304 32h8v16h-8z"/>
<path fill="#ac0000" d="M816 0h16v16h-16zM856 0h8v16h-8zM888 0h8v16h-8zM320 16h8v16h-8zM408 16h8v16h-8zM480 16h8v16h-8zM632 16h8v16h-8zM712 16h8v16h-8zM336 32h8v16h-8zM352 32h8v16h-8zM440 32h8v16h-8zM456 32h8v16h-8zM560 32h8v16h-8zM760 32h8v16h-8z"/>
<path fill="#ad0000" d="M608 0h16v16h-16zM672 0h8v16h-8zM720 32h8v16h-8zM808 32h8v16h-8zM568 224h8v16h-8z"/>
<path fill="#ae0000" d="M360 0h8v16h-8zM680 0h8v16h-8zM400 16h8v16h-8zM424 16h8v16h-8zM496 16h8v16h-8zM160 32h8v16h-8zM568 32h8v16h-8z"/>
<path fill="#af0000" d="M344 0h8v16h-8zM376 0h16v16h-16zM448 0h8v16h-8zM464 0h8v16h-8zM584 0h8v16h-8zM520 16h16v16h-16zM536 32h8v16h-8zM576 32h16v16h-16zM600 32h8v16h-8zM624 32h8v16h-8zM648 32h8v16h-8zM664 32h8v16h-8zM712 32h8v16h-8zM784 32h8v16h-8zM800 32h8v16h-8zM864 32h16v16h-16zM536 256h8v16h-8zM968 256h8v16h-8zM384 272h8v16h-8z"/>
<path fill="#b00000" d="M312 0h16v16h-16zM432 0h8v16h-8zM480 0h8v16h-8zM640 0h8v16h-8zM696 16h8v16h-8zM736 16h8v16h-8zM552 32h8v16h-8zM592 32h8v16h-8zM688 32h8v16h-8zM856 32h8v16h-8zM704 144h24v16h-24zM400 160h16v16h-16zM960 288h8v96h-8z"/>
<path fill="#b10000" d="M328 0h8v16h-8zM424 0h8v16h-8zM488 0h16v16h-16zM648 0h8v16h-8zM664 0h8v16h-8zM544 32h8v16h-8zM824 32h8v16h-8zM960 272h8v16h-8zM960 384h8v32h-8z"/>
<path fill="#b20000" d="M576 0h8v16h-8zM600 0h8v16h-8zM616 32h8v16h-8zM640 32h8v16h-8zM680 32h8v16h-8zM816 32h8v16h-8zM880 32h8v16h-8zM672 256h8v16h-8zM888 256h8v144h-8zM960 416h8v160h-8z"/>
<path fill="#b30000" d="M472 0h8v16h-8zM688 16h8v16h-8zM744 16h8v16h-8zM608 32h8v16h-8zM656 32h8v16h-8zM672 32h8v16h-8zM816 320h8v80h-8zM888 400h8v176h-8z"/>
<path fill="#b40000" d="M336 0h8v16h-8zM352 0h8v16h-8zM368 0h8v16h-8zM456 0h8v16h-8zM728 16h8v16h-8zM408 32h8v16h-8zM792 32h8v16h-8zM816 304h8v16h-8zM816 400h8v16h-8z"/>
<path fill="#b50000" d="M160 0h152v16h-152zM392 0h32v16h-32zM440 0h8v16h-8zM504 0h72v16h-72zM592 0h8v16h-8zM624 0h16v16h-16zM656 0h8v16h-8zM688 0h128v16h-128zM832 0h24v16h-24zM864 0h24v16h-24zM896 0h136v32h-136zM160 16h144v16h-144zM392 16h8v32h-8zM416 16h8v32h-8zM512 16h8v32h-8zM624 16h8v16h-8zM768 16h8v16h-8zM832 16h8v32h-8zM168 32h136v16h-136zM400 32h8v16h-8zM728 32h8v16h-8zM896 32h128v16h-128zM744 256h8v16h-8zM816 256h8v48h-8zM744 384h8v48h-8zM816 416h8v160h-8z"/>
<path fill="#b60000" d="M640 208h8v368h-8zM712 208h8v368h-8zM784 224h8v352h-8zM856 224h8v352h-8zM496 240h8v336h-8zM568 240h8v336h-8zM352 256h8v320h-8zM928 256h8v320h-8zM1000 256h8v320h-8zM208 272h8v304h-8zM424 272h8v304h-8zM744 272h8v112h-8zM280 304h8v272h-8zM672 352h8v96h-8zM744 432h8v144h-8z"/>
<path fill="#b70000" d="M672 336h8v16h-8z"/>
<path fill="#b80000" d="M608 256h8v16h-8zM672 272h8v64h-8zM600 368h8v96h-8zM672 448h8v128h-8z"/>
<path fill="#b90000" d="M456 272h8v16h-8zM528 272h8v208h-8zM600 272h8v96h-8zM600 464h8v96h-8z"/>
<path fill="#ba0000" d="M752 240h8v16h-8zM528 480h8v16h-8zM600 560h8v16h-8z"/>
<path fill="#bb0000" d="M392 272h8v16h-8zM456 368h8v128h-8zM528 496h8v80h-8z"/>
<path fill="#bc0000" d="M456 288h8v80h-8zM384 304h8v32h-8zM384 464h8v16h-8zM456 496h8v80h-8z"/>
<path fill="#bd0000" d="M312 368h8v16h-8zM312 400h8v32h-8zM312 448h8v80h-8zM384 448h8v16h-8zM384 480h8v16h-8z"/>
<path fill="#be0000" d="M384 288h8v16h-8zM384 336h8v112h-8zM312 352h8v16h-8zM312 384h8v16h-8zM312 432h8v16h-8zM384 496h8v80h-8zM240 512h8v48h-8zM312 528h8v16h-8z"/>
<path fill="#bf0000" d="M240 288h8v224h-8zM312 320h8v32h-8zM312 544h8v32h-8zM240 560h8v16h-8z"/>
<path fill="#c60000" d="M680 256h8v16h-8z"/>
<path fill="#c80000" d="M464 272h8v16h-8z"/>
<path fill="#cc0000" d="M704 160h24v16h-24z"/>
<path fill="#cd0000" d="M752 256h8v320h-8zM824 256h8v320h-8zM896 256h8v320h-8zM536 272h8v304h-8zM608 272h8v304h-8zM680 272h8v304h-8zM968 272h8v304h-8zM248 288h8v288h-8zM392 288h8v288h-8zM464 288h8v288h-8zM320 320h8v256h-8z"/>
</g></defs>
<filter id="crf" filterUnits="userSpaceOnUse" primitiveUnits="userSpaceOnUse" x="0" y="0" width="1200" height="800" color-interpolation-filters="sRGB">
<feColorMatrix in="SourceGraphic" type="matrix" values="0.5 -0.418688 -0.081312 0 0.5  0 0 0 0 0  0 0 0 0 0  0 0 0 0 1" result="cr"/>
<feImage href="#crmap" x="0" y="0" width="1200" height="800" result="map"/>
<feComposite in="map" in2="cr" operator="over" result="blk"/>
<feColorMatrix in="SourceGraphic" type="matrix" values="-0.5 0.418688 0.081312 0 0.5  0 0 0 0 0  0 0 0 0 0  0 0 0 0 1" result="ncr"/>
<feComposite in="blk" in2="ncr" operator="arithmetic" k1="0" k2="0.5" k3="0.5" k4="0" result="e"/>
<feColorMatrix in="e" type="matrix" values="1 0 0 0 0.00196  -0.509321 0 0 0 0.753660  0 0 0 0 0.5  0 0 0 0 1" result="E"/>
<feComposite in="SourceGraphic" in2="E" operator="arithmetic" k1="0" k2="1" k3="2.804" k4="-1.402"/>
</filter>
</svg>
<div id="stage">
<div id="banner"></div>
<div id="tar">إنتاج البحرين من الغاز الطبيعي</div>
<div id="tnum">(2023 - 2025)</div>
<div id="panel"></div>
<div id="wmclip"><div id="wm">
<div class="wlogo">الطاقة</div>
<div class="wsub">ATTAQA</div>
</div><div id="wmd">
<svg width="1200" height="800" viewBox="0 0 1200 800">
<defs>
<linearGradient id="dg2" x1="0.2" y1="0" x2="0.7" y2="1"><stop offset="0" stop-color="#3fa8f2"/><stop offset="0.55" stop-color="#1766d0"/><stop offset="1" stop-color="#0b3c98"/></linearGradient>
<linearGradient id="yg2" x1="0" y1="0" x2="1" y2="0"><stop offset="0" stop-color="#8fc24a"/><stop offset="1" stop-color="#d8e23c"/></linearGradient>
</defs>
<path d="M969 644.5 C975.5 650 982.5 657 981.3 663 C980.3 668 973.5 670 968 669.3 C972 667 974 663 973 658 C972.5 653 970.5 649 969 644.5 Z" fill="url(#yg2)"/>
<path d="M966.5 621.5 C962.5 628 964.5 634 970 639.5 C974.5 644 978.5 649 980.3 653.5 C980.5 647 976.5 640.5 973 636 C969 631 965.5 627 966.5 621.5 Z" fill="#d9c53a"/>
<path d="M970.3 622 C968 627 970.5 631.5 974 636 C976.5 639.5 978.5 643.5 979.5 647 C979.8 642 977.5 637.5 975 634 C972 629.5 969.5 626.5 970.3 622 Z" fill="#efe07a"/>
<path d="M961.5 623.5 C958.3 632 962.3 638.5 968.6 643.8 C975 649 980 653 981.8 657.5 C979.5 650 973.2 644.3 968 639.3 C963.6 635.3 961 630.5 961.5 623.5 Z" fill="#24102c"/>
<path d="M958.7 630.5 C957.5 635 959.5 638.5 962.5 641 C961.3 637.5 959.5 634.5 958.7 630.5 Z" fill="#6b3b93"/>
<path d="M960.3 639.5 C964 640.5 968 643.2 970.3 647.2 C971.5 650 971.3 652.5 970.5 654.5 C968 650 964.3 645 960.3 639.5 Z" fill="#2b8eab"/>
<path d="M958.3 639.8 C955 647 952.7 653 953 659 C953.4 665 957.8 668.2 962.5 668.2 C967.5 668.2 971 664.6 971 659.6 C971 653 963 647 958.3 639.8 Z" fill="url(#dg2)"/>
<path d="M955 657 C954.6 662 957.5 665.8 961 666.8" fill="none" stroke="#cfe8ff" stroke-width="0.7" opacity="0.85"/>
<circle cx="968.3" cy="658.2" r="0.9" fill="#e8f4ff"/><circle cx="968.6" cy="661.6" r="0.6" fill="#e8f4ff"/>
</svg>
</div></div>
<div id="pill"></div>
<svg width="1200" height="800" viewBox="0 0 1200 800">
<g id="bars">
<rect x="203.00" y="271.70" width="17.6" height="313.60" fill="#fba51c"/>
<rect x="222.20" y="257.40" width="17.6" height="327.90" fill="#0a94ab"/>
<rect x="241.40" y="287.20" width="17.6" height="298.10" fill="#d43d26"/>
<rect x="275.08" y="295.00" width="17.6" height="290.30" fill="#fba51c"/>
<rect x="294.28" y="270.00" width="17.6" height="315.30" fill="#0a94ab"/>
<rect x="313.48" y="319.50" width="17.6" height="265.80" fill="#d43d26"/>
<rect x="347.17" y="254.25" width="17.6" height="331.05" fill="#fba51c"/>
<rect x="366.37" y="246.75" width="17.6" height="338.55" fill="#0a94ab"/>
<rect x="385.57" y="275.75" width="17.6" height="309.55" fill="#d43d26"/>
<rect x="419.25" y="262.00" width="17.6" height="323.30" fill="#fba51c"/>
<rect x="438.45" y="253.00" width="17.6" height="332.30" fill="#0a94ab"/>
<rect x="457.65" y="273.00" width="17.6" height="312.30" fill="#d43d26"/>
<rect x="491.33" y="232.00" width="17.6" height="353.30" fill="#fba51c"/>
<rect x="510.53" y="230.75" width="17.6" height="354.55" fill="#0a94ab"/>
<rect x="529.73" y="262.25" width="17.6" height="323.05" fill="#d43d26"/>
<rect x="563.42" y="226.50" width="17.6" height="358.80" fill="#fba51c"/>
<rect x="582.62" y="223.25" width="17.6" height="362.05" fill="#0a94ab"/>
<rect x="601.82" y="260.25" width="17.6" height="325.05" fill="#d43d26"/>
<rect x="635.50" y="201.50" width="17.6" height="383.80" fill="#fba51c"/>
<rect x="654.70" y="201.50" width="17.6" height="383.80" fill="#0a94ab"/>
<rect x="673.90" y="257.50" width="17.6" height="327.80" fill="#d43d26"/>
<rect x="707.58" y="196.75" width="17.6" height="388.55" fill="#fba51c"/>
<rect x="726.78" y="201.50" width="17.6" height="383.80" fill="#0a94ab"/>
<rect x="745.98" y="243.50" width="17.6" height="341.80" fill="#d43d26"/>
<rect x="779.67" y="218.75" width="17.6" height="366.55" fill="#fba51c"/>
<rect x="798.87" y="215.50" width="17.6" height="369.80" fill="#0a94ab"/>
<rect x="818.07" y="251.25" width="17.6" height="334.05" fill="#d43d26"/>
<rect x="851.75" y="215.50" width="17.6" height="369.80" fill="#fba51c"/>
<rect x="870.95" y="221.75" width="17.6" height="363.55" fill="#0a94ab"/>
<rect x="890.15" y="251.25" width="17.6" height="334.05" fill="#d43d26"/>
<rect x="923.83" y="248.25" width="17.6" height="337.05" fill="#fba51c"/>
<rect x="943.03" y="252.75" width="17.6" height="332.55" fill="#0a94ab"/>
<rect x="962.23" y="262.25" width="17.6" height="323.05" fill="#d43d26"/>
<rect x="995.92" y="250.00" width="17.6" height="335.30" fill="#fba51c"/>
<rect x="1015.12" y="257.50" width="17.6" height="327.80" fill="#0a94ab"/>
</g>
<g id="axes">
<line x1="195" y1="196.5" x2="195" y2="585" stroke="#666" stroke-width="1.5"/>
<line x1="172.7" y1="585.4" x2="1060.6" y2="585.4" stroke="#222" stroke-width="1.3"/>
<line x1="172.7" y1="197.10" x2="195.5" y2="197.10" stroke="#2a2a2a" stroke-width="1.2"/>
<line x1="172.7" y1="274.76" x2="195.5" y2="274.76" stroke="#2a2a2a" stroke-width="1.2"/>
<line x1="172.7" y1="352.42" x2="195.5" y2="352.42" stroke="#2a2a2a" stroke-width="1.2"/>
<line x1="172.7" y1="430.08" x2="195.5" y2="430.08" stroke="#2a2a2a" stroke-width="1.2"/>
<line x1="172.7" y1="507.74" x2="195.5" y2="507.74" stroke="#2a2a2a" stroke-width="1.2"/>
<line x1="172.7" y1="585.40" x2="195.5" y2="585.40" stroke="#2a2a2a" stroke-width="1.2"/>
<line x1="195.00" y1="585" x2="195.00" y2="595" stroke="#2a2a2a" stroke-width="1.2"/>
<line x1="267.08" y1="585" x2="267.08" y2="595" stroke="#2a2a2a" stroke-width="1.2"/>
<line x1="339.17" y1="585" x2="339.17" y2="595" stroke="#2a2a2a" stroke-width="1.2"/>
<line x1="411.25" y1="585" x2="411.25" y2="595" stroke="#2a2a2a" stroke-width="1.2"/>
<line x1="483.33" y1="585" x2="483.33" y2="595" stroke="#2a2a2a" stroke-width="1.2"/>
<line x1="555.42" y1="585" x2="555.42" y2="595" stroke="#2a2a2a" stroke-width="1.2"/>
<line x1="627.50" y1="585" x2="627.50" y2="595" stroke="#2a2a2a" stroke-width="1.2"/>
<line x1="699.58" y1="585" x2="699.58" y2="595" stroke="#2a2a2a" stroke-width="1.2"/>
<line x1="771.67" y1="585" x2="771.67" y2="595" stroke="#2a2a2a" stroke-width="1.2"/>
<line x1="843.75" y1="585" x2="843.75" y2="595" stroke="#2a2a2a" stroke-width="1.2"/>
<line x1="915.83" y1="585" x2="915.83" y2="595" stroke="#2a2a2a" stroke-width="1.2"/>
<line x1="987.92" y1="585" x2="987.92" y2="595" stroke="#2a2a2a" stroke-width="1.2"/>
<line x1="1060.00" y1="585" x2="1060.00" y2="595" stroke="#2a2a2a" stroke-width="1.2"/>
</g>
<g id="social">
<circle cx="66.8" cy="754.5" r="18.5" fill="#ffffff"/>
<circle cx="104.7" cy="754.5" r="18.5" fill="#ffffff"/>
<circle cx="142.2" cy="754.5" r="18.5" fill="#ffffff"/>
<circle cx="526.4" cy="754.5" r="18.6" fill="#ffffff"/>
<!-- X -->
<path d="M56.6 743.2 L62.6 743.2 L77.6 766.4 L71.6 766.4 Z" fill="none" stroke="#0a95ad" stroke-width="1.3" stroke-linejoin="miter"/>
<path d="M77 743.2 L68.3 753.2 M65.6 756.3 L56.8 766.4" stroke="#0a95ad" stroke-width="1.5" fill="none"/>
<!-- instagram -->
<rect x="94.2" y="743.3" width="21.2" height="21.2" rx="4.2" fill="#0a95ad"/>
<rect x="96" y="745.1" width="17.6" height="17.6" rx="2.8" fill="none" stroke="#ffffff" stroke-width="0.9"/>
<circle cx="104.8" cy="753.9" r="4.6" fill="none" stroke="#ffffff" stroke-width="1.7"/>
<circle cx="110.6" cy="748.2" r="1.3" fill="#ffffff"/>
<!-- facebook -->
<path d="M148.4 739.8 C143.2 738.8 140.6 741.4 140.6 745.6 L140.6 767.3 L143.6 767.3 L143.6 745.6 C143.6 743 145.2 741.6 148.4 742.3 Z" fill="#0a95ad"/>
<rect x="136.3" y="748.6" width="11.6" height="2.6" fill="#0a95ad"/>
<!-- youtube -->
<rect x="514.8" y="746.7" width="23.5" height="16.2" rx="4.5" fill="#0a95ad"/>
<path d="M523.8 751.4 L530.3 754.9 L523.8 758.4 Z" fill="#ffffff"/>
<!-- globe -->
<circle cx="955.3" cy="754.5" r="17.2" fill="none" stroke="#ffffff" stroke-width="2.8"/>
<circle cx="955.3" cy="754.5" r="14" fill="#ffffff"/>
<g fill="none" stroke="#0a95ad" stroke-width="1">
<ellipse cx="955.3" cy="754.5" rx="6.3" ry="14"/>
<ellipse cx="955.3" cy="754.5" rx="11.2" ry="14"/>
<line x1="955.3" y1="740.5" x2="955.3" y2="768.5"/>
<line x1="941.3" y1="754.5" x2="969.3" y2="754.5"/>
<path d="M943.3 747.5 L967.3 747.5 M943.3 761.5 L967.3 761.5"/>
</g>
</g>
<g id="drop">
<defs>
<linearGradient id="dg" x1="0.2" y1="0" x2="0.7" y2="1"><stop offset="0" stop-color="#3fa8f2"/><stop offset="0.55" stop-color="#1766d0"/><stop offset="1" stop-color="#0b3c98"/></linearGradient>
<linearGradient id="yg" x1="0" y1="0" x2="1" y2="0"><stop offset="0" stop-color="#8fc24a"/><stop offset="1" stop-color="#d8e23c"/></linearGradient>
</defs>
<path d="M969 644.5 C975.5 650 982.5 657 981.3 663 C980.3 668 973.5 670 968 669.3 C972 667 974 663 973 658 C972.5 653 970.5 649 969 644.5 Z" fill="url(#yg)"/>
<path d="M966.5 621.5 C962.5 628 964.5 634 970 639.5 C974.5 644 978.5 649 980.3 653.5 C980.5 647 976.5 640.5 973 636 C969 631 965.5 627 966.5 621.5 Z" fill="#d9c53a"/>
<path d="M970.3 622 C968 627 970.5 631.5 974 636 C976.5 639.5 978.5 643.5 979.5 647 C979.8 642 977.5 637.5 975 634 C972 629.5 969.5 626.5 970.3 622 Z" fill="#efe07a"/>
<path d="M961.5 623.5 C958.3 632 962.3 638.5 968.6 643.8 C975 649 980 653 981.8 657.5 C979.5 650 973.2 644.3 968 639.3 C963.6 635.3 961 630.5 961.5 623.5 Z" fill="#24102c"/>
<path d="M958.7 630.5 C957.5 635 959.5 638.5 962.5 641 C961.3 637.5 959.5 634.5 958.7 630.5 Z" fill="#6b3b93"/>
<path d="M960.3 639.5 C964 640.5 968 643.2 970.3 647.2 C971.5 650 971.3 652.5 970.5 654.5 C968 650 964.3 645 960.3 639.5 Z" fill="#2b8eab"/>
<path d="M958.3 639.8 C955 647 952.7 653 953 659 C953.4 665 957.8 668.2 962.5 668.2 C967.5 668.2 971 664.6 971 659.6 C971 653 963 647 958.3 639.8 Z" fill="url(#dg)"/>
<path d="M955 657 C954.6 662 957.5 665.8 961 666.8" fill="none" stroke="#cfe8ff" stroke-width="0.7" opacity="0.85"/>
<circle cx="968.3" cy="658.2" r="0.9" fill="#e8f4ff"/><circle cx="968.6" cy="661.6" r="0.6" fill="#e8f4ff"/>
</g>
</svg>
<div class="yl" style="top:174.0px">2.5</div>
<div class="yl" style="top:251.7px">2.0</div>
<div class="yl" style="top:329.3px">1.5</div>
<div class="yl" style="top:407.0px">1.0</div>
<div class="yl" style="top:484.6px">0.5</div>
<div class="yl" style="top:562.3px">0.0</div>
<div class="ml" style="left:190.2px;transform:scaleX(0.790)">يناير</div>
<div class="ml" style="left:262.5px;transform:scaleX(0.762)">فبراير</div>
<div class="ml" style="left:334.4px;transform:scaleX(0.837)">مارس</div>
<div class="ml" style="left:406.0px;transform:scaleX(0.788)">أبريل</div>
<div class="ml" style="left:478.9px;transform:scaleX(0.850)">مايو</div>
<div class="ml" style="left:550.6px;transform:scaleX(0.882)">يونيو</div>
<div class="ml" style="left:623.2px;transform:scaleX(0.857)">يوليو</div>
<div class="ml" style="left:694.8px;transform:scaleX(0.752)">أغسطس</div>
<div class="ml" style="left:767.5px;transform:scaleX(0.783)">سبتمبر</div>
<div class="ml" style="left:838.8px;transform:scaleX(0.828)">أكتوبر</div>
<div class="ml" style="left:912.2px;transform:scaleX(0.763)">نوفمبر</div>
<div class="ml" style="left:984.8px;transform:scaleX(0.746)">ديسمبر</div>
<div id="unit">مليار متر مكعب</div>
<div class="sw" style="left:397px;background:#f3a91c"></div><div class="lg" style="left:434px">2023</div>
<div class="sw" style="left:556.3px;background:#0a94ab"></div><div class="lg" style="left:590.3px">2024</div>
<div class="sw" style="left:702px;background:#d53f27"></div><div class="lg" style="left:738.5px">2025</div>
<div id="src">Jodi, 2026 &amp; Attaqa, 2026</div>
<div id="logo">الطاقة</div>
<div id="logosub">ATTAQA</div>
<div class="ft" style="left:167px">@Attaqa2</div>
<div class="ft" style="left:551px">Attaqa SM</div>
<div class="ft" style="left:979.8px;font-size:27px">attaqa.net</div>
</div>
<div id="fx">
<div class="bp" style="left:128px;top:96px;width:44px;height:9px;background:rgb(60,0,0)"></div>
<div class="bd" style="left:128px;top:96px;width:44px;height:9px;background:rgb(0,28,0)"></div>
<div class="bp" style="left:172px;top:96px;width:428px;height:9.5px;background:rgb(225,0,0)"></div>
<div class="bd" style="left:172px;top:96px;width:428px;height:9.5px;background:rgb(0,30,0)"></div>
<div class="bm" style="left:128px;top:105.5px;width:472px;height:6.5px;background:rgb(165,255,255)"></div>
<div class="bp" style="left:128px;top:105.5px;width:472px;height:6.5px;background:rgb(0,55,0)"></div>
<div class="bp" style="left:0;top:112.5px;width:418px;height:9px;background:rgb(72,0,0)"></div>
<div class="bd" style="left:0;top:112.5px;width:418px;height:9px;background:rgb(0,36,0)"></div>
<div class="bm" style="left:0;top:122px;width:422px;height:6px;background:rgb(160,255,255)"></div>
<div class="bp" style="left:0;top:122px;width:422px;height:6px;background:rgb(0,60,0)"></div>
</div>
</body>
</html>
